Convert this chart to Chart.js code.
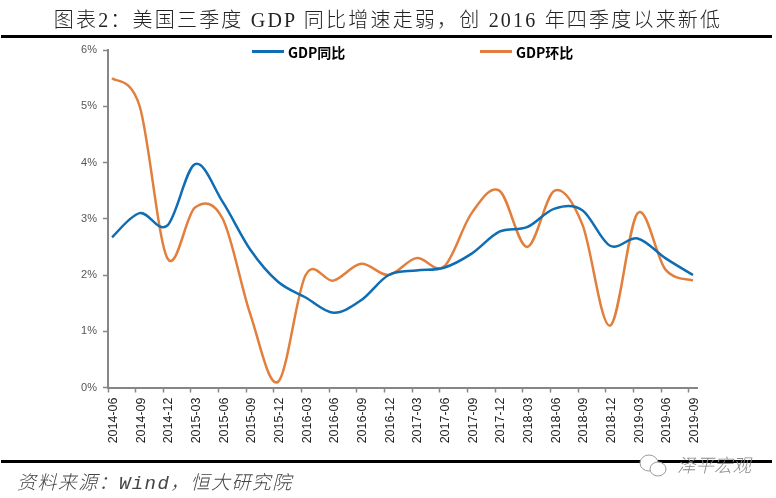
<!DOCTYPE html>
<html lang="zh">
<head>
<meta charset="utf-8">
<script src="https://cdn.jsdelivr.net/npm/chart.js@4"></script>
<style>
  html, body { margin: 0; padding: 0; background: #fff; overflow: hidden; }
  #wrap { position: relative; width: 776px; height: 498px; overflow: hidden; }
  canvas { position: absolute; left: 0; top: 0; }
  .abs { position: absolute; white-space: nowrap; }
  .title { left: 0; width: 776px; top: 4px; text-align: center; font: 300 20px "Liberation Serif", "Noto Sans CJK SC"; color: #222; letter-spacing: 2.2px; }
  .rule { left: 1px; width: 771px; height: 3px; background: #000; }
  .source { left: 17px; top: 467px; font: italic 300 19px "Liberation Mono", "Noto Sans CJK SC"; color: #444; letter-spacing: 1.4px; }
  .mark { left: 677px; top: 451px; font: italic 300 18.5px "Noto Sans CJK SC"; color: #8a8a8a; }
  .legend-line { height: 3px; }
  .legend-text { font: 700 14px "Noto Sans CJK SC"; color: #000; }
</style>
</head>
<body>
<div id="wrap">
  <canvas id="chart" width="776" height="498"></canvas>
  <div class="abs title">图表2&#xFF1A;美国三季度 GDP 同比增速走弱&#xFF0C;创 2016 年四季度以来新低</div>
  <div class="abs rule" style="top:35px"></div>
  <div class="abs rule" style="top:460px"></div>
  <div id="legend"></div>
  <div class="abs source">资料来源&#xFF1A;Wind&#xFF0C;恒大研究院</div>
  <svg class="abs" style="left:638px;top:452px" width="32" height="28" fill="#fff" stroke="#999">
    <ellipse cx="11" cy="11" rx="9" ry="8"/>
    <ellipse cx="20" cy="17" rx="8" ry="7"/>
  </svg>
  <div class="abs mark">泽平宏观</div>
</div>
<script>
// ============================== DATA

const categories = [
  '2014-06', '2014-09', '2014-12',
  '2015-03', '2015-06', '2015-09', '2015-12',
  '2016-03', '2016-06', '2016-09', '2016-12',
  '2017-03', '2017-06', '2017-09', '2017-12',
  '2018-03', '2018-06', '2018-09', '2018-12',
  '2019-03', '2019-06', '2019-09',
];
const gdpYoy = [2.67, 3.1, 2.88, 3.97, 3.3, 2.45, 1.88, 1.6, 1.33, 1.55, 2.0, 2.08, 2.13, 2.38, 2.77, 2.85, 3.18, 3.15, 2.52, 2.65, 2.3, 2.0];
const gdpQoq = [5.5, 5.0, 2.3, 3.2, 3.0, 1.3, 0.1, 2.0, 1.9, 2.2, 2.0, 2.3, 2.15, 3.1, 3.5, 2.5, 3.5, 2.9, 1.1, 3.1, 2.1, 1.9];

// the source chart has its tick marks slightly left of the data points
const tickShift = 0.145;
const axisColor = '#868686';

function toPoints(values) {
  return values.map((v, i) => ({ x: i, y: v }));
}

// ============================== UTILS

// spreadsheet style smoothing: chart.js weights tangents by segment length, which kinks on steep runs
const uniformSpline = {
  id: 'uniformSpline',
  afterDatasetsUpdate(chart) {
    chart.getSortedVisibleDatasetMetas().forEach(meta => {
      const pts = meta.dataset.points;
      meta.dataset.updateControlPoints(chart.chartArea);
      pts.forEach((p, i) => {
        const prev = pts[Math.max(i - 1, 0)];
        const next = pts[Math.min(i + 1, pts.length - 1)];
        const dx = (next.x - prev.x) / 6;
        const dy = (next.y - prev.y) / 6;
        p.cp1x = p.x - dx;
        p.cp1y = p.y - dy;
        p.cp2x = p.x + dx;
        p.cp2y = p.y + dy;
      });
    });
  },
};

// ============================== CHART JS

const chart = new Chart(document.getElementById('chart'), {
  type: 'line',
  plugins: [uniformSpline],
  data: {
    datasets: [
      { label: 'GDP同比', data: toPoints(gdpYoy), borderColor: '#0f6db3', borderWidth: 2.5, pointRadius: 0, tension: 0.5 },
      { label: 'GDP环比', data: toPoints(gdpQoq), borderColor: '#e27f3c', borderWidth: 2.5, pointRadius: 0, tension: 0.5 },
    ],
  },
  options: {
    responsive: false,
    animation: false,
    devicePixelRatio: 1,
    layout: { padding: { top: 50, right: 79 } },
    plugins: { legend: { display: false }, title: { display: false }, tooltip: { enabled: false } },
    scales: {
      x: {
        type: 'linear',
        min: -tickShift,
        max: categories.length - 1 + tickShift,
        afterBuildTicks(scale) {
          scale.ticks = categories.map((c, i) => ({ value: i - tickShift }));
        },
        afterFit(scale) { scale.height = 110.5; },
        border: { color: axisColor, width: 2 },
        grid: { drawOnChartArea: false, tickLength: 5, tickColor: axisColor, tickWidth: 1.5 },
        ticks: {
          autoSkip: false,
          minRotation: 90,
          maxRotation: 90,
          padding: 5,
          labelOffset: 5.5,
          color: '#222',
          font: { family: '"Liberation Sans"', size: 12.5 },
          callback: (value, index) => categories[index],
        },
      },
      y: {
        min: 0,
        max: 6,
        afterFit(scale) { scale.width = 108; },
        border: { color: axisColor, width: 2 },
        grid: { drawOnChartArea: false, tickLength: 5, tickColor: axisColor, tickWidth: 1.5 },
        ticks: {
          stepSize: 1,
          padding: 6,
          color: '#555',
          font: { family: '"Liberation Sans"', size: 11 },
          callback: value => value + '%',
        },
      },
    },
  },
});

// ============================== LEGEND

const legendSpots = [[252, 288], [480, 516]];
const legend = document.getElementById('legend');

chart.data.datasets.forEach((ds, i) => {
  const line = document.createElement('div');
  const text = document.createElement('div');
  line.className = 'abs legend-line';
  line.style.cssText = `left:${legendSpots[i][0]}px;top:50px;width:32px;background:${ds.borderColor}`;
  text.className = 'abs legend-text';
  text.style.cssText = `left:${legendSpots[i][1]}px;top:42px`;
  text.innerText = ds.label;
  legend.append(line, text);
});
</script>
</body>
</html>
